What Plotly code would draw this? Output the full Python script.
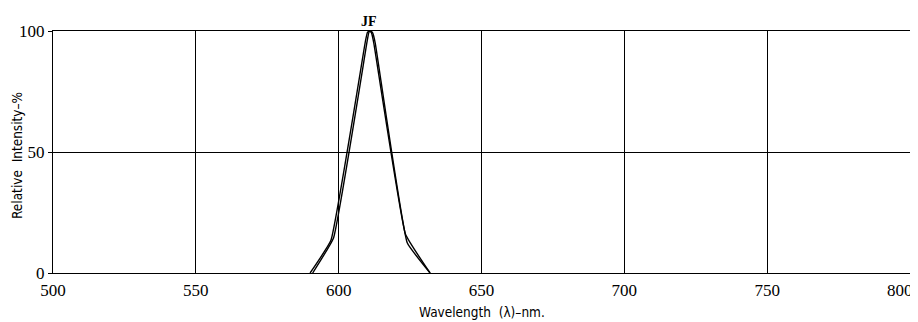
import plotly.graph_objects as go

# Data
curve_a_nm = [590.0, 597.3, 609.4, 610.1, 610.8, 611.5, 612.3, 623.4, 632.0]
curve_a_int = [0, 13.5, 96, 99.5, 100, 99.2, 95, 16, 0]
curve_b_nm = [590.9, 598.2, 610.0, 610.6, 611.2, 611.9, 612.8, 624.0, 632.0]
curve_b_int = [0, 14.5, 96, 99.5, 100, 99.2, 95, 12.5, 0]

x_ticks = [500, 550, 600, 650, 700, 750, 800]
x_ticktext = ["500", "550", "600", "650", "700", "750", "800"]
y_ticks = [0, 50, 100]
label = "JF"
peak_nm = 610.6
x_title = "Wavelength  (λ)–nm."
y_title = "Relative  Intensity–%"

# page body has an 8px margin; shrink the figure so the plot lands where the reference has it
OFF = 8

fig = go.Figure()
for xs, ys in [(curve_a_nm, curve_a_int), (curve_b_nm, curve_b_int)]:
    fig.add_trace(go.Scatter(x=xs, y=ys, mode="lines",
                             line=dict(color="black", width=1.4, shape="spline", smoothing=0.3),
                             showlegend=False, hoverinfo="skip"))

fig.add_annotation(x=peak_nm, y=100, text="<b>" + label + "</b>", showarrow=False,
                   yanchor="bottom", yshift=0,
                   font=dict(family="Liberation Serif", size=14, color="black"))

tickfont = dict(family="Liberation Sans Narrow", size=17, color="black")
# last x tick label sits at the right edge; the reference nudges it inward
fig.add_annotation(x=x_ticks[-1], y=0, text=x_ticktext[-1], showarrow=False,
                   xanchor="right", yanchor="middle", xshift=4, yshift=-17, font=tickfont,
                   borderpad=0)

titlefont = dict(family="DejaVu Sans Condensed", size=13.5, color="black")
fig.add_annotation(xref="paper", yref="paper", x=0.5, y=0, text=x_title, showarrow=False,
                   xanchor="center", yanchor="middle", yshift=-39, font=titlefont)
fig.add_annotation(xref="paper", yref="paper", x=0, y=0.5, text=y_title, showarrow=False,
                   textangle=-90, xanchor="center", yanchor="middle", xshift=-36, yshift=-4,
                   font=titlefont)

fig.update_layout(
    width=918 - OFF, height=322 - OFF,
    margin=dict(l=53 - OFF, r=8, t=31 - OFF, b=49),
    paper_bgcolor="white", plot_bgcolor="white",
    xaxis=dict(range=[500, 800], tickvals=x_ticks, ticktext=x_ticktext[:-1] + [""],
               showgrid=True, gridcolor="black", gridwidth=1, zeroline=False,
               showline=True, linecolor="black", linewidth=1, mirror=True,
               ticks="", tickfont=tickfont, automargin=False, ticklabelstandoff=2),
    yaxis=dict(range=[0, 100], tickvals=y_ticks, ticktext=[str(v) for v in y_ticks],
               showgrid=True, gridcolor="black", gridwidth=1, zeroline=False,
               showline=True, linecolor="black", linewidth=1, mirror=True,
               ticks="outside", ticklen=4, tickcolor="black", tickfont=tickfont,
               automargin=False),
)

fig.write_html("out.html")
